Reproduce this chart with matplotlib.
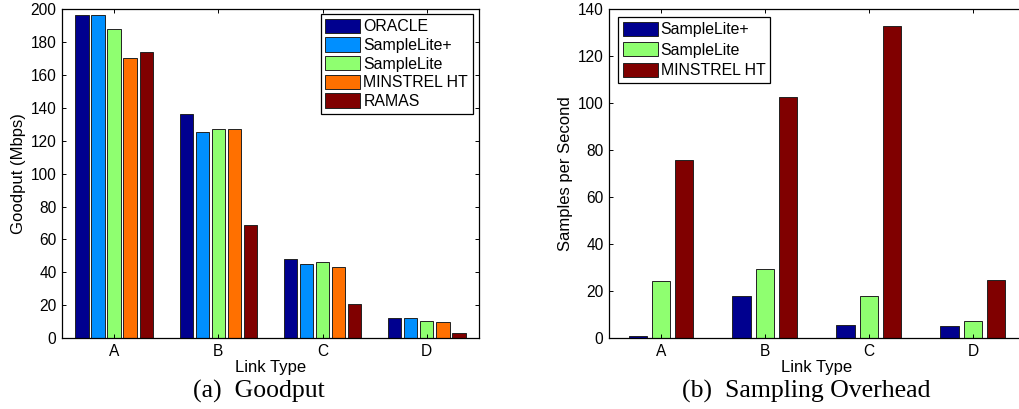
import numpy as np
import matplotlib
matplotlib.use("Agg")
from matplotlib import pyplot as plt

plt.rcParams['font.family'] = ['Liberation Sans', 'DejaVu Sans']
plt.rcParams['font.size'] = 11

link_types = ['A', 'B', 'C', 'D']

# Goodput (Mbps) per link type
goodput_names = ['ORACLE', 'SampleLite+', 'SampleLite', 'MINSTREL HT', 'RAMAS']
oracle = [196.5, 136.2, 47.8, 12.0]
samplelite_plus = [196.5, 125.2, 45.0, 12.0]
samplelite = [188.2, 127.3, 46.2, 10.1]
minstrel = [170.2, 127.3, 43.2, 9.5]
ramas = [174.3, 68.7, 20.7, 3.2]

# Sampling overhead (samples per second)
overhead_names = ['SampleLite+', 'SampleLite', 'MINSTREL HT']
ovh_samplelite_plus = [1.0, 17.9, 5.7, 5.0]
ovh_samplelite = [24.1, 29.5, 18.0, 7.2]
ovh_minstrel = [75.7, 102.6, 132.9, 24.5]

c_dblue = '#00008f'
c_lblue = '#008fff'
c_green = '#8fff70'
c_orange = '#ff7000'
c_dred = '#800000'


def style_axes(ax, ymax, ystep):
    ax.set_xlim(0.5, 4.5)
    ax.set_ylim(0, ymax)
    ax.set_xticks(np.arange(1, 5))
    ax.set_xticklabels(link_types)
    ax.set_yticks(np.arange(0, ymax + 1, ystep))
    ax.tick_params(direction='in', top=True, right=True, length=3, width=0.7,
                   pad=4, labelsize=11.2)
    for s in ax.spines.values():
        s.set_linewidth(0.9)


def grouped_bars(ax, series, colors, pitch, width):
    x = np.arange(1, 5)
    n = len(series)
    bars = []
    for i, (vals, col) in enumerate(zip(series, colors)):
        off = (i - (n - 1) / 2) * pitch
        bars.append(ax.bar(x + off, vals, width, color=col, edgecolor='#222222', linewidth=0.7))
    return bars


def add_legend(ax, handles, names, loc, anchor, spacing):
    leg = ax.legend(handles, names, loc=loc, bbox_to_anchor=anchor,
                    borderaxespad=0, fancybox=False, edgecolor='black', framealpha=1,
                    handlelength=2.2, handleheight=1.0, handletextpad=0.2,
                    labelspacing=spacing, borderpad=0.3, fontsize=11.4)
    leg.get_frame().set_linewidth(0.9)
    return leg


fig = plt.figure(figsize=(10.19, 4.09), dpi=100)

# (a) Goodput
ax1 = fig.add_axes([0.0608, 0.1736, 0.4092, 0.8037])
b1 = grouped_bars(ax1, [oracle, samplelite_plus, samplelite, minstrel, ramas],
                  [c_dblue, c_lblue, c_green, c_orange, c_dred], 0.154, 0.128)
style_axes(ax1, 200, 20)
ax1.set_ylabel('Goodput (Mbps)', fontsize=12, labelpad=3)
ax1.set_xlabel('Link Type', fontsize=12, labelpad=1)
add_legend(ax1, b1, goodput_names, 'upper right', (0.9856, 0.9857), 0.2)

# (b) Sampling overhead
ax2 = fig.add_axes([0.5976, 0.1736, 0.4082, 0.8037])
b2 = grouped_bars(ax2, [ovh_samplelite_plus, ovh_samplelite, ovh_minstrel],
                  [c_dblue, c_green, c_dred], 0.224, 0.176)
style_axes(ax2, 140, 20)
ax2.set_ylabel('Samples per Second', fontsize=12, labelpad=3)
ax2.set_xlabel('Link Type', fontsize=12, labelpad=1)
add_legend(ax2, b2, overhead_names, 'upper left', (0.0216, 0.9766), 0.32)

# sub-figure captions
serif = ['Liberation Serif', 'DejaVu Serif']
fig.text(259 / 1019, 1 - 391 / 409, '(a)  Goodput', ha='center', va='center',
         family=serif, fontsize=18.5)
fig.text(806 / 1019, 1 - 391 / 409, '(b)  Sampling Overhead', ha='center', va='center',
         family=serif, fontsize=18.5)

fig.savefig('out.png', dpi=100)
